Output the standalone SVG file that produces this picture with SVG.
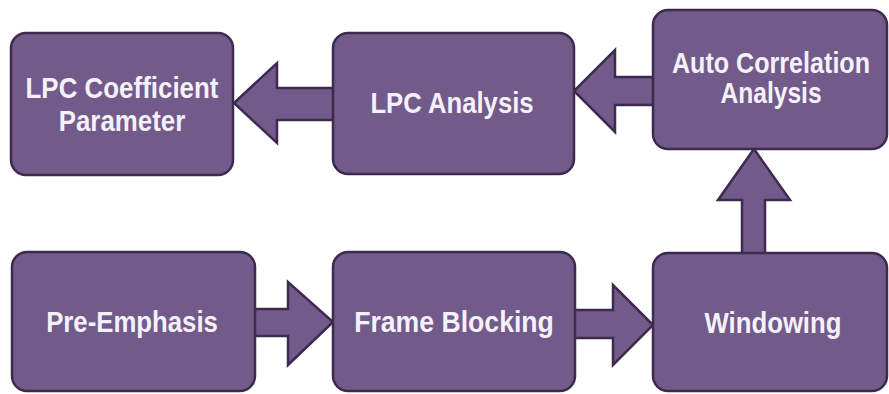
<svg xmlns="http://www.w3.org/2000/svg" width="889" height="394" viewBox="0 0 889 394">
  <style>
    .box { fill: #725a8a; stroke: #3c2b4f; stroke-width: 2.5; }
    .arrow { fill: #725a8a; stroke: #3c2b4f; stroke-width: 2.5; stroke-linejoin: miter; }
    .label { fill: #f5f1f8; font-family: "Liberation Sans", "Arial", sans-serif; font-weight: bold; font-size: 29px; text-anchor: middle; }
  </style>
  <rect width="889" height="394" fill="#ffffff"/>

  <!-- block arrows between stages -->
  <g id="connectors">
    <polygon class="arrow" points="250,309 288,309 288,282 333,322 288,365 288,336 250,336"/>
    <polygon class="arrow" points="570,310 613,310 613,285 653,325 613,365 613,338 570,338"/>
    <polygon class="arrow" points="742,258 742,200 718,200 754,149 790,200 765,200 765,258"/>
    <polygon class="arrow" points="658,77 615,77 615,50 574,91 615,132 615,105 658,105"/>
    <polygon class="arrow" points="337,88 277,88 277,63 234,103 277,143 277,120 337,120"/>
  </g>

  <!-- labels are set in a condensed bold face: horizontal scale 0.85 -->
  <g id="lpc-coefficient">
    <rect class="box" x="11" y="33" width="222" height="142" rx="15"/>
    <text class="label" transform="translate(122,98) scale(0.85,1)" textLength="227" lengthAdjust="spacingAndGlyphs">LPC Coefficient</text>
    <text class="label" transform="translate(122,131) scale(0.85,1)" textLength="149" lengthAdjust="spacingAndGlyphs">Parameter</text>
  </g>

  <g id="lpc-analysis">
    <rect class="box" x="333" y="33" width="241" height="141" rx="15"/>
    <text class="label" transform="translate(452,113) scale(0.85,1)" textLength="192" lengthAdjust="spacingAndGlyphs">LPC Analysis</text>
  </g>

  <g id="auto-correlation">
    <rect class="box" x="653" y="10" width="234" height="139" rx="15"/>
    <text class="label" transform="translate(771,73) scale(0.85,1)" textLength="233" lengthAdjust="spacingAndGlyphs">Auto Correlation</text>
    <text class="label" transform="translate(771,103) scale(0.85,1)" textLength="119" lengthAdjust="spacingAndGlyphs">Analysis</text>
  </g>

  <g id="pre-emphasis">
    <rect class="box" x="12" y="252" width="243" height="139" rx="15"/>
    <text class="label" transform="translate(132,332) scale(0.85,1)" textLength="202" lengthAdjust="spacingAndGlyphs">Pre-Emphasis</text>
  </g>

  <g id="frame-blocking">
    <rect class="box" x="333" y="252" width="242" height="139" rx="15"/>
    <text class="label" transform="translate(454,332) scale(0.85,1)" textLength="235" lengthAdjust="spacingAndGlyphs">Frame Blocking</text>
  </g>

  <g id="windowing">
    <rect class="box" x="653" y="253" width="234" height="138" rx="15"/>
    <text class="label" transform="translate(773,333) scale(0.85,1)" textLength="161" lengthAdjust="spacingAndGlyphs">Windowing</text>
  </g>
</svg>
